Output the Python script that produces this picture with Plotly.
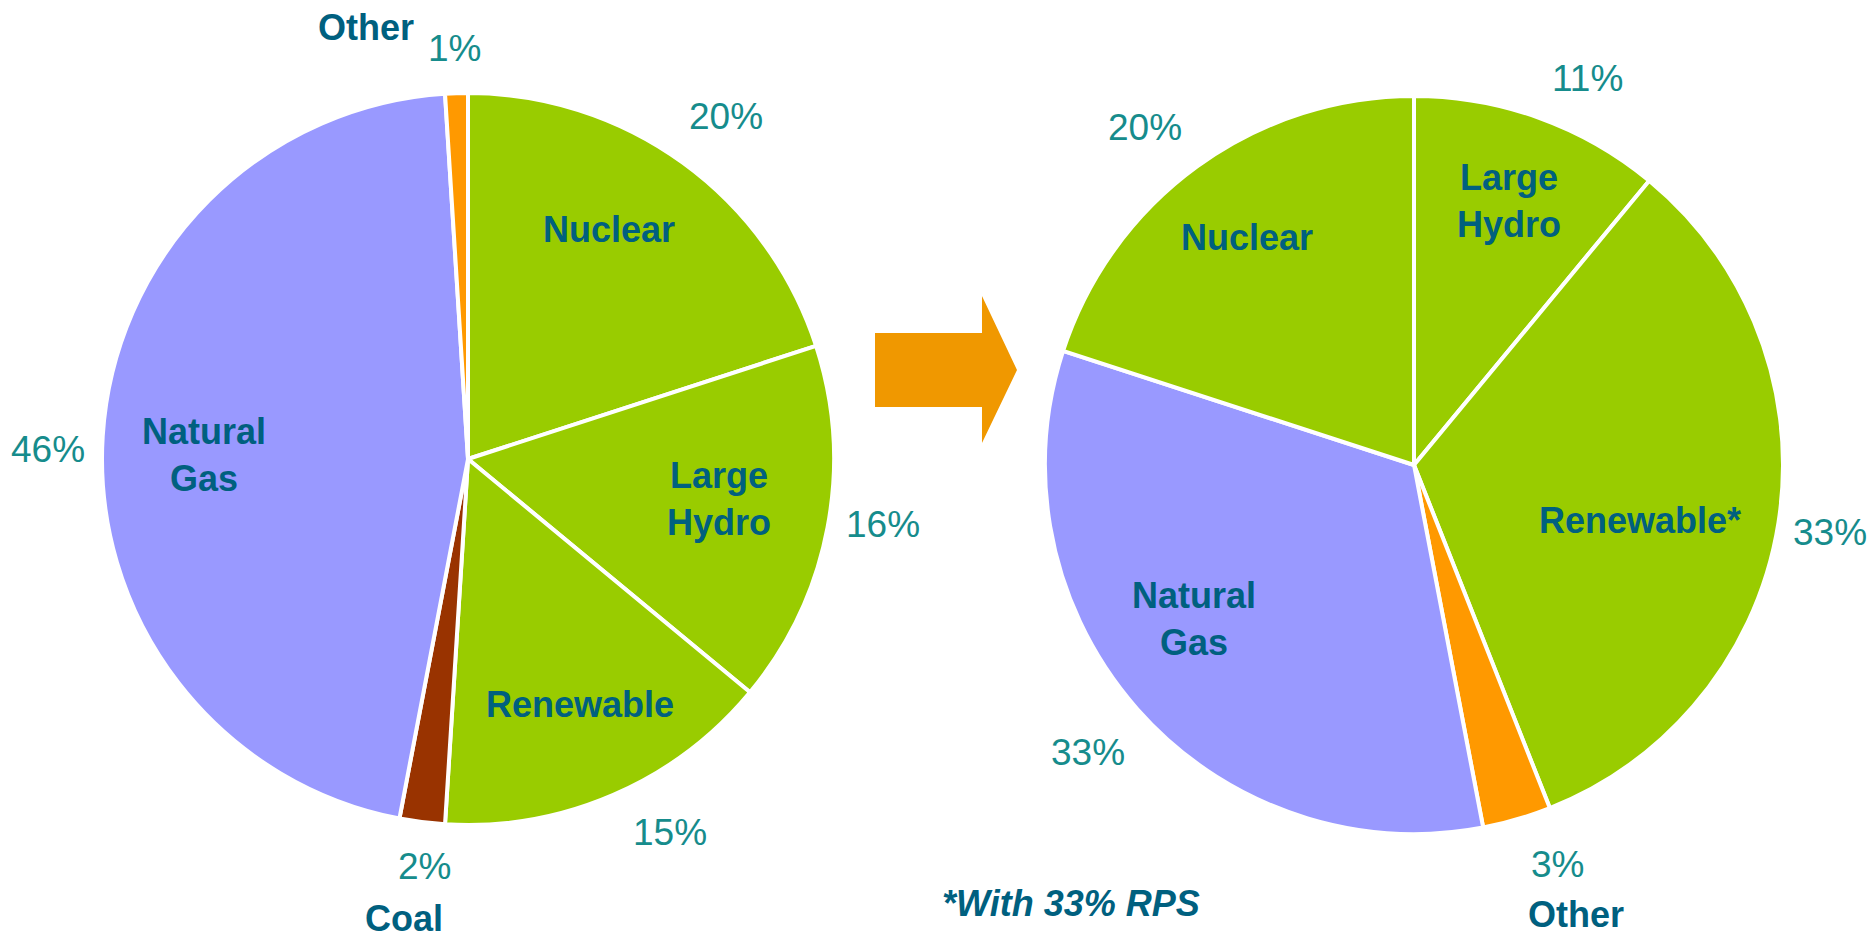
import plotly.graph_objects as go

# ── Data ───────────────────────────────────────────────────────────────────────
today_labels = ['Nuclear', 'Large Hydro', 'Renewable', 'Coal', 'Natural Gas', 'Other']
today_values = [20, 16, 15, 2, 46, 1]

future_labels = ['Large Hydro', 'Renewable*', 'Other', 'Natural Gas', 'Nuclear']
future_values = [11, 33, 3, 33, 20]

footnote = '*With 33% RPS'

# ── Style ──────────────────────────────────────────────────────────────────────
W, H = 1874, 933
COLORS = {
    'Nuclear': '#99CC00', 'Large Hydro': '#99CC00', 'Renewable': '#99CC00',
    'Renewable*': '#99CC00', 'Coal': '#993300', 'Natural Gas': '#9999FF',
    'Other': '#FF9900',
}
LABEL_COLOR = '#00607F'
PCT_COLOR = '#168C8C'
ARROW = '#F09800'
FONT = 'Arial, Liberation Sans, sans-serif'


def px(x, y):
    # window pixel -> paper coordinates
    return x / W, 1 - y / H


def domain(cx, cy, r):
    x0, y1 = px(cx - r, cy - r)
    x1, y0 = px(cx + r, cy + r)
    return dict(x=[x0, x1], y=[y0, y1])


def pie(labels, values, dom):
    return go.Pie(
        labels=labels, values=values, sort=False, direction='clockwise',
        rotation=0, textinfo='none', hoverinfo='label+percent',
        marker=dict(colors=[COLORS[l] for l in labels],
                    line=dict(color='white', width=4)),
        domain=dom, showlegend=False,
    )


fig = go.Figure()
fig.add_trace(pie(today_labels, today_values, domain(468, 459, 366)))
fig.add_trace(pie(future_labels, future_values, domain(1414, 465, 369)))

# ── Text placement (window pixels) ─────────────────────────────────────────────
today_name_pos = {
    'Nuclear': (609, 229), 'Large Hydro': (719, 499), 'Renewable': (580, 704),
    'Coal': (404, 918), 'Natural Gas': (204, 455), 'Other': (366, 28),
}
today_pct_pos = {
    'Nuclear': (726, 117), 'Large Hydro': (883, 524), 'Renewable': (670, 832),
    'Coal': (424, 866), 'Natural Gas': (48, 449), 'Other': (454, 49),
}
future_name_pos = {
    'Large Hydro': (1509, 201), 'Renewable*': (1640, 520), 'Other': (1576, 914),
    'Natural Gas': (1194, 619), 'Nuclear': (1247, 238),
}
future_pct_pos = {
    'Large Hydro': (1587, 78), 'Renewable*': (1830, 532), 'Other': (1557, 864),
    'Natural Gas': (1088, 752), 'Nuclear': (1145, 127),
}

annotations = []


def add_text(text, pos, size, color, bold=False, italic=False):
    x, y = px(*pos)
    if bold:
        text = f'<b>{text}</b>'
    if italic:
        text = f'<i>{text}</i>'
    annotations.append(dict(
        x=x, y=y, xref='paper', yref='paper', text=text, showarrow=False,
        xanchor='center', yanchor='middle',
        font=dict(family=FONT, size=size, color=color),
    ))


for labels, values, name_pos, pct_pos in [
    (today_labels, today_values, today_name_pos, today_pct_pos),
    (future_labels, future_values, future_name_pos, future_pct_pos),
]:
    for lab, val in zip(labels, values):
        add_text(lab.replace(' ', '<br>'), name_pos[lab], 36, LABEL_COLOR, bold=True)
        add_text(f'{val}%', pct_pos[lab], 37, PCT_COLOR)

add_text(footnote, (1071, 903), 36, LABEL_COLOR, bold=True, italic=True)

# ── Arrow between the pies ─────────────────────────────────────────────────────
pts = [(875, 333), (982, 333), (982, 296), (1017, 370),
       (982, 443), (982, 407), (875, 407)]
path = 'M ' + ' L '.join(f'{px(x, y)[0]:.5f},{px(x, y)[1]:.5f}' for x, y in pts) + ' Z'

fig.update_layout(
    width=W, height=H,
    paper_bgcolor='white', plot_bgcolor='white',
    margin=dict(t=0, b=0, l=0, r=0),
    annotations=annotations,
    shapes=[dict(type='path', path=path, xref='paper', yref='paper',
                 fillcolor=ARROW, line=dict(width=0))],
)

# drop the default page margin so the figure fills the window exactly
fig.write_html('out.html', config={'displayModeBar': False},
               post_script="document.body.style.margin='0';"
               "document.body.style.overflow='hidden';")
